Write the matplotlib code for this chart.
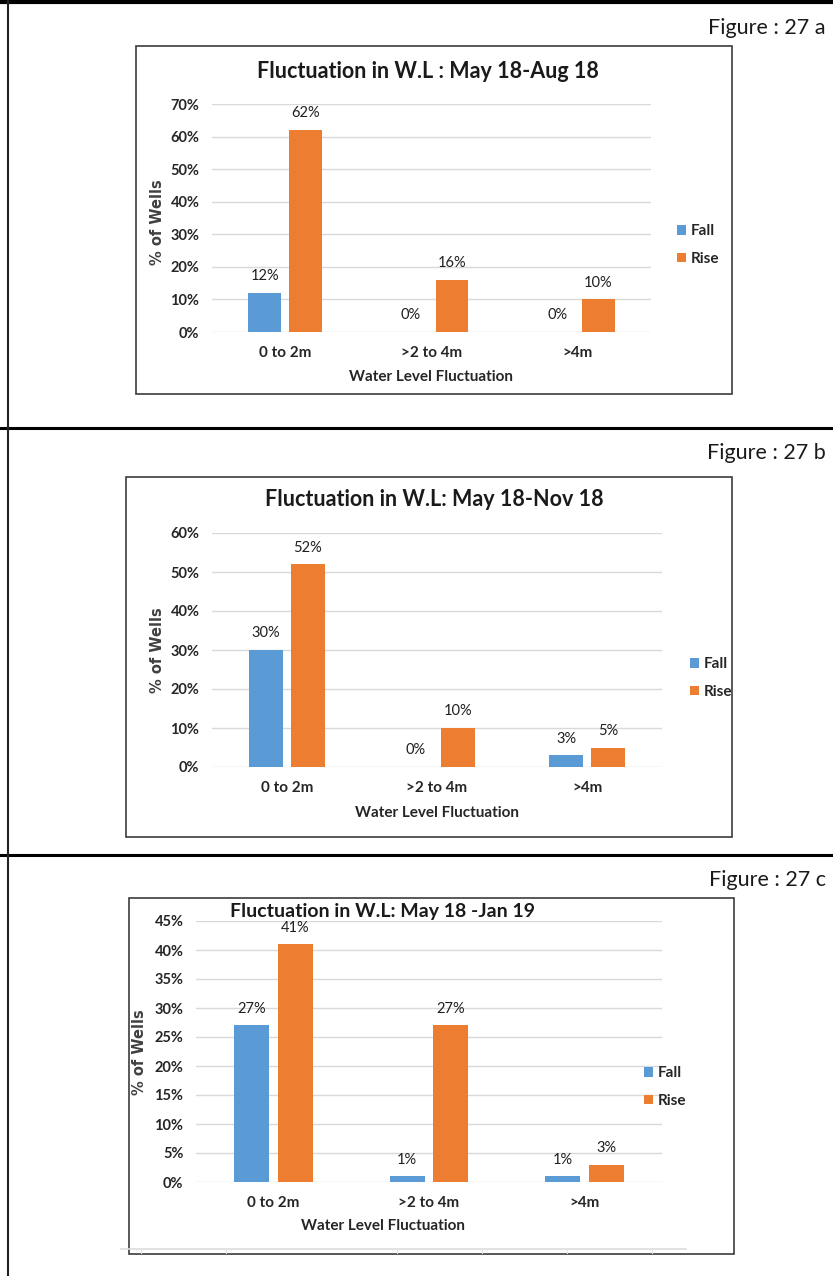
import matplotlib
matplotlib.use("Agg")
import matplotlib.pyplot as plt
from matplotlib.patches import Rectangle
from matplotlib.lines import Line2D

plt.rcParams['font.family'] = ['Lato', 'DejaVu Sans']

W, H = 833, 1276

categories = ["0 to 2m", ">2 to 4m", ">4m"]
series_names = ["Fall", "Rise"]

fall_a = [0.12, 0.00, 0.00]
rise_a = [0.62, 0.16, 0.10]
fall_b = [0.30, 0.00, 0.03]
rise_b = [0.52, 0.10, 0.05]
fall_c = [0.27, 0.01, 0.01]
rise_c = [0.41, 0.27, 0.03]

titles = ["Fluctuation in W.L : May 18-Aug 18",
          "Fluctuation in W.L: May 18-Nov 18",
          "Fluctuation in W.L: May 18 -Jan 19"]
panel_tags = ["Figure : 27 a", "Figure : 27 b", "Figure : 27 c"]
y_max = [0.70, 0.60, 0.45]
y_step = [0.10, 0.10, 0.05]
x_label = "Water Level Fluctuation"
y_label = "% of Wells"

FALL_COLOR = "#5B9BD5"
RISE_COLOR = "#ED7D31"
GRID_COLOR = "#D9D9D9"

# layout in pixels: (box l, t, r, b), (axes l, t, r, b), title xy, tag y,
# legend xy, x-label xy, y-label xy, title size
layouts = [
    dict(box=(136, 46, 732, 394), axes=(212, 104, 651, 332), title=(428, 72),
         tag=28, legend=(677, 245), xlab=(431, 377), ylab=(158, 222), tsize=15.5),
    dict(box=(126, 477, 732, 837), axes=(212, 533, 662, 767), title=(434, 499),
         tag=453, legend=(690, 678), xlab=(437, 813), ylab=(158, 650), tsize=15.5),
    dict(box=(129, 898, 734, 1254), axes=(196, 921, 662, 1182), title=(382, 912),
         tag=880, legend=(644, 1087), xlab=(383, 1226), ylab=(139, 1052), tsize=14),
]

fig = plt.figure(figsize=(W / 100, H / 100), dpi=100)
fig.patch.set_facecolor("white")


def fx(px):
    return px / W


def fy(py):
    return 1 - py / H


# table rules
for yy, lw in [(1.5, 3.0), (428, 2.2), (855, 2.2)]:
    fig.add_artist(Line2D([0, 1], [fy(yy), fy(yy)], transform=fig.transFigure,
                          color="black", lw=lw))
fig.add_artist(Line2D([fx(8), fx(8)], [0, 1], transform=fig.transFigure,
                      color="#222222", lw=1.5))

data = [(fall_a, rise_a), (fall_b, rise_b), (fall_c, rise_c)]
width = 0.225
offset = 0.14

for i, ((fall, rise), lay) in enumerate(zip(data, layouts)):
    bl, bt, br, bb = lay["box"]
    fig.add_artist(Rectangle((fx(bl), fy(bb)), fx(br) - fx(bl), fy(bt) - fy(bb),
                             transform=fig.transFigure, fill=False,
                             edgecolor="#3C3C3C", lw=1.2))
    al, at, ar, ab = lay["axes"]
    ax = fig.add_axes([fx(al), fy(ab), fx(ar) - fx(al), fy(at) - fy(ab)])
    ax.set_facecolor("none")
    xs = list(range(len(categories)))
    b1 = ax.bar([x - offset for x in xs], fall, width, color=FALL_COLOR,
                label=series_names[0], zorder=3)
    b2 = ax.bar([x + offset for x in xs], rise, width, color=RISE_COLOR,
                label=series_names[1], zorder=3)
    for bars, vals in ((b1, fall), (b2, rise)):
        for rect, v in zip(bars, vals):
            ax.annotate(f"{v:.0%}", (rect.get_x() + rect.get_width() / 2, v),
                        xytext=(0, 12), textcoords="offset points",
                        ha="center", va="center", fontsize=10.5,
                        color="#1F1F1F")
    ax.set_xlim(-0.5, 2.5)
    ax.set_ylim(0, y_max[i])
    n = int(round(y_max[i] / y_step[i]))
    ticks = [k * y_step[i] for k in range(n + 1)]
    ax.set_yticks(ticks)
    ax.set_yticklabels([f"{t:.0%}" for t in ticks], fontsize=10.5,
                       fontweight="bold", color="#262626")
    ax.set_xticks(xs)
    ax.set_xticklabels(categories, fontsize=11, fontweight="bold",
                       color="#262626")
    ax.tick_params(length=0)
    ax.tick_params(axis="y", pad=9)
    ax.tick_params(axis="x", pad=10)
    for t in ticks:
        ax.axhline(t, color=GRID_COLOR, lw=1.0, zorder=1)
    for s in ax.spines.values():
        s.set_visible(False)

    fig.text(fx(lay["title"][0]), fy(lay["title"][1]), titles[i],
             ha="center", va="center", fontsize=lay["tsize"], fontweight="bold",
             color="#1A1A1A")
    fig.text(fx(826), fy(lay["tag"]), panel_tags[i], ha="right", va="center",
             fontsize=15.5, color="#1A1A1A")
    fig.text(fx(lay["xlab"][0]), fy(lay["xlab"][1]), x_label, ha="center",
             va="center", fontsize=11, fontweight="bold", color="#262626")
    fig.text(fx(lay["ylab"][0]), fy(lay["ylab"][1]), y_label, ha="center",
             va="center", rotation=90, fontsize=10.5, fontweight="bold",
             color="#404040", family="DejaVu Sans")
    lx, ly = lay["legend"]
    ax.legend(loc="center left", bbox_to_anchor=(fx(lx), fy(ly)),
              bbox_transform=fig.transFigure, frameon=False,
              borderpad=0, borderaxespad=0,
              handlelength=0.6, handleheight=0.6, handletextpad=0.3,
              labelspacing=0.9,
              prop=dict(size=11, weight="bold"), labelcolor="#262626")

# faint axis remnant under the last chart
fig.add_artist(Line2D([fx(121), fx(686)], [fy(1249), fy(1249)],
                      transform=fig.transFigure, color="#DDDDDD", lw=1.2))
for tx in [141, 226, 397, 482, 567, 652]:
    fig.add_artist(Line2D([fx(tx), fx(tx)], [fy(1249), fy(1253)],
                          transform=fig.transFigure, color="#E4E4E4", lw=0.8))

fig.savefig("out.png", dpi=100, facecolor="white")
